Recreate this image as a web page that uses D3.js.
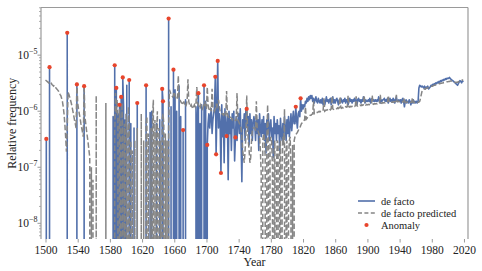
<!DOCTYPE html>
<html>
<head>
<meta charset="utf-8">
<script src="https://cdn.jsdelivr.net/npm/d3@7"></script>
<style>
  body { margin: 0; background: #fff; }
  svg text { font-family: "Liberation Serif", "Times New Roman", Tinos, "DejaVu Serif", serif !important; fill: #222; }
</style>
</head>
<body>
<div id="chart"></div>
<script>
// Relative frequency per year, in millionths (x 1e-6). 0 = no occurrence that year.
const startYear = 1500;

const deFacto = [
    0,0.32,0,0,0,6.1,0,0,0,0,             // 1500
    0,0,0,0,0,0,0,0,0,0,                  // 1510
    0,0,0,0,0,0,0,25,0,0,                 // 1520
    0,0,0,0,0,0,0,0,0,3.0,                // 1530
    0,0,0,0,0,0,0,0,2.8,0,                // 1540
    0,0,0,0,0,0,0,0,0,0,                  // 1550
    0,0,0,0,0,0,0,0,0,0,                  // 1560
    0,0,0,0,0,0,0,0,0,0,                  // 1570
    0,0,0,0,0.8,0,6.6,0,2.6,0,            // 1580
    0.9,0,1.3,0,1.8,0,4.0,1.2,0,0.7,      // 1590
    0,2.9,0,0,3.6,0,0.6,0,0,0,            // 1600
    0.5,0,0,0,1.4,0,0,0,0,0,              // 1610
    0,0,0,0,0,2.9,0,0,0,0,                // 1620
    0.95,0,1.0,0,0,0,0,0,0.6,0,           // 1630
    0,0,0.7,0,0,2.5,1.5,0,0,0,            // 1640
    0,0,0,45,0,0,1.2,0,0,5.5,             // 1650
    0,2.4,0,1.0,0,0,2.8,0,0.8,0,          // 1660
    0,0.46,0,0,1.6,0,0,0,0,0,             // 1670
    0,0,0,0,0,0,0,1.2,0,0.9,              // 1680
    2.1,0,0.6,0,1.3,0,0,2.9,0,1.5,        // 1690
    0,0.25,0.6,0.9,0.5,0.8,1.1,0.4,0.7,0.9,       // 1700
    1.2,4.1,0.17,1.0,7.9,0.5,0.9,0.6,0.079,1.3,   // 1710
    0.35,0.9,0.12,1.1,0.5,0.36,0.8,0.06,1.0,0.4,  // 1720
    0.7,0.2,0.9,0.5,1.0,0.13,0.34,0.8,0.3,0.6,    // 1730
    0.9,0.4,1.1,0.3,0.055,0.7,0.5,0.9,0.3,1.1,    // 1740
    1.1,0.5,0.8,0.25,0.9,0.4,0.7,0.3,0.6,0.8,     // 1750
    0.6,0.3,0.8,0.4,0.7,0.2,0.9,0.5,0.35,0.7,     // 1760
    0.4,0.8,0.3,0.6,0.18,0.7,0.45,0.9,0.3,0.55,   // 1770
    0.7,0.35,0.5,0.15,0.8,0.4,0.6,0.3,0.7,0.4,    // 1780
    0.55,0.2,0.75,0.4,0.3,0.6,0.35,0.8,0.5,0.3,   // 1790
    0.7,0.4,0.8,0.35,0.55,0.9,0.45,0.7,1.0,0.6,   // 1800
    0.6,1.2,0.7,0.5,0.9,1.0,0.8,1.7,1.0,1.3,      // 1810
    1.1,1.3,1.2,1.5,1.4,1.7,1.5,1.8,1.6,1.9,      // 1820
    1.7,1.9,1.5,1.7,1.4,1.6,1.8,1.5,1.4,1.7,      // 1830
    1.5,1.4,1.6,1.4,1.7,1.3,1.6,1.3,1.5,1.8,      // 1840
    1.5,1.6,1.4,1.6,1.7,1.3,1.5,1.8,1.4,1.6,      // 1850
    1.4,1.6,1.7,1.5,1.3,1.6,1.4,1.7,1.5,1.4,      // 1860
    1.6,1.5,1.7,1.4,1.6,1.6,1.3,1.5,1.7,1.5,      // 1870
    1.6,1.4,1.6,1.5,1.7,1.5,1.6,1.3,1.6,1.7,      // 1880
    1.5,1.6,1.4,1.6,1.5,1.8,1.6,1.4,1.6,1.5,      // 1890
    1.5,1.6,1.5,1.7,1.4,1.6,1.7,1.5,1.6,1.5,      // 1900
    1.6,1.5,1.6,1.5,1.8,1.6,1.4,1.6,1.5,1.6,      // 1910
    1.6,1.7,1.5,1.6,1.5,1.7,1.4,1.6,1.7,1.5,      // 1920
    1.6,1.5,1.7,1.6,1.4,1.6,1.8,1.5,1.5,1.6,      // 1930
    1.5,1.6,1.4,1.6,1.7,1.5,1.2,1.5,1.6,1.4,      // 1940
    1.5,1.4,1.6,1.5,1.3,1.5,1.4,1.6,1.4,1.5,      // 1950
    1.4,1.5,1.4,1.5,2.6,2.9,2.8,2.7,2.8,2.7,      // 1960
    2.6,2.8,2.5,2.7,2.6,2.8,2.5,2.6,2.7,2.9,      // 1970
    2.8,3.0,2.9,3.1,3.0,3.2,3.1,3.3,3.2,3.4,      // 1980
    3.3,3.5,3.4,3.6,3.5,3.7,3.6,3.8,3.7,3.9,      // 1990
    3.8,3.9,4.0,3.8,3.7,3.6,3.5,3.4,3.3,3.2,      // 2000
    3.1,3.0,2.9,3.1,3.3,3.5,3.4,3.2,3.5,3.3       // 2010
];

const deFactoPredicted = [
    3.6,3.5,3.4,3.3,3.2,3.3,3.4,3.2,3.0,2.9,      // 1500
    2.8,2.9,2.7,2.6,2.5,2.4,2.3,2.2,2.0,1.9,      // 1510
    1.7,1.5,1.2,0.9,0.6,0.35,0.19,0.5,2.2,2.0,    // 1520
    1.8,1.6,1.4,1.2,1.0,0.85,0.7,0.6,0.5,3.2,     // 1530
    1.4,1.1,0.9,0.75,0.6,0.5,0.42,0.35,2.9,0.8,   // 1540
    0.6,0.45,0.35,0.27,0.2,0.15,0,0.1,0,0.06,     // 1550
    0,0,0,1.9,0,0,0,0,0,0,                // 1560
    0,0,0,0,0,1.4,0,0,0,0,                // 1570
    0,0,0,0,0,0,0.4,2.1,0.9,1.6,          // 1580
    0.7,0,1.1,0.5,0,1.4,0.3,0,0.6,0,      // 1590
    0.9,0.4,0,1.2,0.5,0,0.3,0,0.2,0,      // 1600
    0,0.3,0,0,0.5,0,0,0,0,0.9,            // 1610
    0,0,0.3,0,0,0.6,0.8,0,0.4,0,          // 1620
    0,0.5,0,0.8,1.6,0,0.7,0,0.4,1.0,      // 1630
    0,0.5,0,0.3,0,0.7,0.9,0.6,0,0.4,      // 1640
    0,0.3,0,0.5,2.4,2.2,2.0,1.9,1.8,1.9,  // 1650
    2.2,1.9,1.7,1.6,1.7,4.3,1.8,1.6,1.5,1.4,      // 1660
    1.4,1.3,1.5,1.3,1.2,1.3,1.6,3.7,1.5,1.3,      // 1670
    1.2,1.3,1.2,1.1,1.2,1.3,1.2,1.4,2.7,1.4,      // 1680
    1.3,1.2,1.1,1.3,1.2,1.1,1.2,1.3,1.5,1.2,      // 1690
    1.1,2.7,1.3,1.1,1.0,1.1,1.0,2.5,1.2,1.1,      // 1700
    1.0,1.1,1.3,1.2,1.4,1.6,1.2,1.0,0.95,0.9,     // 1710
    0.9,0.85,0.9,0.85,0.8,2.3,0.9,0.8,0.75,0.8,   // 1720
    0.78,0.75,0.7,0.75,0.72,0.7,0.68,0.7,2.1,0.7, // 1730
    0.65,0.6,0.55,0.5,0.35,0.2,0.15,0.12,0.2,0.35,  // 1740
    1.9,0.5,0.3,0.2,0.12,0.15,0.3,0.45,0.5,0.5,   // 1750
    0.5,0.45,1.5,0.5,0.45,0.4,0.35,0.2,0.08,0,    // 1760
    0.3,0.4,0.35,0.15,0,0.3,1.3,0.2,0,0.25,       // 1770
    0.35,0.3,0.1,0,0.2,0.3,0,0.1,0.3,0.25,        // 1780
    0,0.2,0.3,0,0.1,0.35,0.25,1.1,0,0.2,          // 1790
    0.3,0,0.15,0.3,0.35,0.1,0,0.25,0,0.3,         // 1800
    0.35,0.38,0.4,0.42,0.45,0.48,0.5,0.55,0.6,0.62,   // 1810
    0.65,0.68,0.7,1.2,0.72,0.75,0.78,0.8,0.82,0.85,   // 1820
    0.85,0.88,0.9,1.5,0.9,0.92,0.93,0.95,0.95,0.97,   // 1830
    1.0,0.97,1.0,1.02,1.0,1.05,1.7,1.0,1.03,1.05,     // 1840
    1.05,1.08,1.05,1.1,1.06,1.1,1.85,1.1,1.08,1.12,   // 1850
    1.1,1.12,1.1,1.15,1.12,1.15,1.8,1.15,1.13,1.17,   // 1860
    1.15,1.18,1.15,1.2,1.18,1.2,1.9,1.2,1.18,1.22,    // 1870
    1.2,1.22,1.2,1.25,1.22,1.25,1.85,1.25,1.23,1.27,  // 1880
    1.25,1.28,1.25,1.3,1.27,1.3,1.9,1.3,1.28,1.32,    // 1890
    1.3,1.32,1.3,1.35,1.32,1.35,1.9,1.35,1.33,1.37,   // 1900
    1.35,1.37,1.35,1.38,1.36,1.4,1.95,1.4,1.38,1.42,  // 1910
    1.4,1.42,1.4,1.43,1.41,1.45,1.9,1.45,1.43,1.46,   // 1920
    1.45,1.46,1.44,1.48,1.46,1.5,1.95,1.48,1.47,1.5,  // 1930
    1.48,1.5,1.47,1.5,1.45,1.48,1.7,1.42,1.44,1.46,   // 1940
    1.45,1.47,1.44,1.46,1.43,1.45,1.75,1.44,1.42,1.45,  // 1950
    1.43,1.45,1.42,1.44,1.45,1.5,1.7,2.0,2.3,2.4,     // 1960
    2.45,2.5,2.5,2.55,2.6,2.6,2.65,2.7,2.7,2.75,      // 1970
    2.8,2.8,2.85,2.9,2.9,2.95,3.0,3.0,3.05,3.1,       // 1980
    3.1,3.15,3.15,3.2,3.2,3.25,3.25,3.3,3.3,3.35,     // 1990
    3.35,3.4,3.4,3.45,3.45,3.4,3.4,3.35,3.3,3.3,      // 2000
    3.25,3.3,3.3,3.35,3.4,3.45,3.5,3.55,3.6,3.6       // 2010
];

// Years flagged as anomalies (dot drawn on the de facto value)
const anomalyYears = [1501, 1505, 1527, 1539, 1548, 1586, 1588, 1592, 1594, 1596,
    1604, 1614, 1625, 1645, 1646, 1653, 1659, 1671, 1690, 1697, 1701, 1711, 1712,
    1714, 1718, 1725, 1736, 1750, 1811, 1817];

const xTicks = [1500, 1540, 1580, 1620, 1660, 1700, 1740, 1780, 1820, 1860, 1900, 1940, 1980, 2020];
const yTicks = [1e-8, 1e-7, 1e-6, 1e-5];
const yExponents = ["\u22128", "\u22127", "\u22126", "\u22125"];

const UNIT = 1e-6;
const FLOOR = 1e-300;   // zeros are clipped far below the axis, like log-scale clipping
const SERIF = "'Liberation Serif', 'Times New Roman', Tinos, 'DejaVu Serif', serif";

const toPoints = arr => arr.map((v, i) => ({ year: startYear + i, value: v * UNIT }));
const factoData = toPoints(deFacto);
const predData = toPoints(deFactoPredicted);
const anomalyData = anomalyYears.map(yr => ({ year: yr, value: deFacto[yr - startYear] * UNIT }));

// Setup dimensions
const W = 482, H = 271;
const plot = { left: 41, right: 468, top: 7.5, bottom: 239 };

const svg = d3.select("#chart")
    .append("svg")
    .attr("width", W)
    .attr("height", H)
    .style("font-family", SERIF);

// Scales
const x = d3.scaleLinear()
    .domain([1494.4, 2025])
    .range([plot.left, plot.right]);

const y = d3.scaleLog()
    .domain([Math.pow(10, -8.28), Math.pow(10, -4.15)])
    .range([plot.bottom, plot.top]);

svg.append("clipPath")
    .attr("id", "clip")
    .append("rect")
    .attr("x", plot.left)
    .attr("y", plot.top)
    .attr("width", plot.right - plot.left)
    .attr("height", plot.bottom - plot.top);

const line = d3.line()
    .x(d => x(d.year))
    .y(d => y(d.value > 0 ? d.value : FLOOR));

const marks = svg.append("g").attr("clip-path", "url(#clip)");

marks.append("path")
    .datum(factoData)
    .attr("fill", "none")
    .attr("stroke", "#5270ab")
    .attr("stroke-width", 1.6)
    .attr("stroke-linejoin", "round")
    .attr("d", line);

marks.append("path")
    .datum(predData)
    .attr("fill", "none")
    .attr("stroke", "#858585")
    .attr("stroke-width", 1.5)
    .attr("stroke-dasharray", "5.5,2.4")
    .attr("d", line);

marks.selectAll("circle")
    .data(anomalyData)
    .enter()
    .append("circle")
    .attr("cx", d => x(d.year))
    .attr("cy", d => y(d.value))
    .attr("r", 2.1)
    .attr("fill", "#e8452c");

// Spines (no bottom spine in the original)
const spine = svg.append("g").attr("stroke", "#9a9a9a").attr("stroke-width", 1.2).attr("fill", "none");
spine.append("line").attr("x1", plot.left).attr("x2", plot.right).attr("y1", plot.top).attr("y2", plot.top);
spine.append("line").attr("x1", plot.left).attr("x2", plot.left).attr("y1", plot.top).attr("y2", plot.bottom);
spine.append("line").attr("x1", plot.right).attr("x2", plot.right).attr("y1", plot.top).attr("y2", plot.bottom);

// x axis
const xAxis = svg.append("g")
    .attr("transform", `translate(0,${plot.bottom})`)
    .call(d3.axisBottom(x).tickValues(xTicks).tickFormat(d3.format("d")).tickSize(3.5).tickPadding(3.5));
xAxis.attr("font-family", null);
xAxis.select(".domain").remove();
xAxis.selectAll(".tick line").attr("stroke", "#9a9a9a");
xAxis.selectAll("text")
    .style("font-family", SERIF)
    .attr("font-size", 11.5)
    .attr("fill", "#222");

// y axis: minor ticks
const minor = [];
for (let e = -9; e <= -4; e++) {
    for (let m = 2; m <= 9; m++) {
        const v = m * Math.pow(10, e);
        if (v >= y.domain()[0] && v <= y.domain()[1]) minor.push(v);
    }
}
svg.append("g").selectAll("line")
    .data(minor)
    .enter()
    .append("line")
    .attr("x1", plot.left - 2)
    .attr("x2", plot.left)
    .attr("y1", d => y(d))
    .attr("y2", d => y(d))
    .attr("stroke", "#9a9a9a")
    .attr("stroke-width", 0.8);

// y axis: major ticks + labels like 10^-5
const yMajor = svg.append("g").selectAll("g")
    .data(yTicks)
    .enter()
    .append("g")
    .attr("transform", d => `translate(0,${y(d)})`);

yMajor.append("line")
    .attr("x1", plot.left - 3.5)
    .attr("x2", plot.left)
    .attr("stroke", "#9a9a9a")
    .attr("stroke-width", 1);

const yLabel = yMajor.append("text")
    .attr("x", 37.5)
    .attr("y", 4)
    .attr("text-anchor", "end")
    .style("font-family", SERIF)
    .attr("font-size", 11.5);
yLabel.append("tspan").text("10");
yLabel.append("tspan")
    .attr("dy", -5)
    .attr("font-size", 8)
    .text((d, i) => yExponents[i]);

// Axis labels
svg.append("text")
    .attr("text-anchor", "middle")
    .attr("x", (plot.left + plot.right) / 2)
    .attr("y", 265.5)
    .style("font-family", SERIF)
    .attr("font-size", 12)
    .text("Year");

svg.append("text")
    .attr("text-anchor", "middle")
    .attr("transform", `translate(16,${(plot.top + plot.bottom) / 2}) rotate(-90)`)
    .style("font-family", SERIF)
    .attr("font-size", 12)
    .text("Relative frequency");

// Legend
const legend = svg.append("g").attr("transform", "translate(358,0)");
const legendItems = ["de facto", "de facto predicted", "Anomaly"];
const legendY = [201, 213, 225];

legend.append("line")
    .attr("x1", 0).attr("x2", 17)
    .attr("y1", legendY[0]).attr("y2", legendY[0])
    .attr("stroke", "#5270ab").attr("stroke-width", 1.6);
legend.append("line")
    .attr("x1", 0).attr("x2", 17)
    .attr("y1", legendY[1]).attr("y2", legendY[1])
    .attr("stroke", "#858585").attr("stroke-width", 1.5)
    .attr("stroke-dasharray", "4,2.4");
legend.append("circle")
    .attr("cx", 8.5).attr("cy", legendY[2])
    .attr("r", 2.1).attr("fill", "#e8452c");

legend.selectAll("text.lab")
    .data(legendItems)
    .enter()
    .append("text")
    .attr("class", "lab")
    .attr("x", 23)
    .attr("y", (d, i) => legendY[i] + 3.5)
    .style("font-family", SERIF)
    .attr("font-size", 10.5)
    .text(d => d);
</script>
</body>
</html>
